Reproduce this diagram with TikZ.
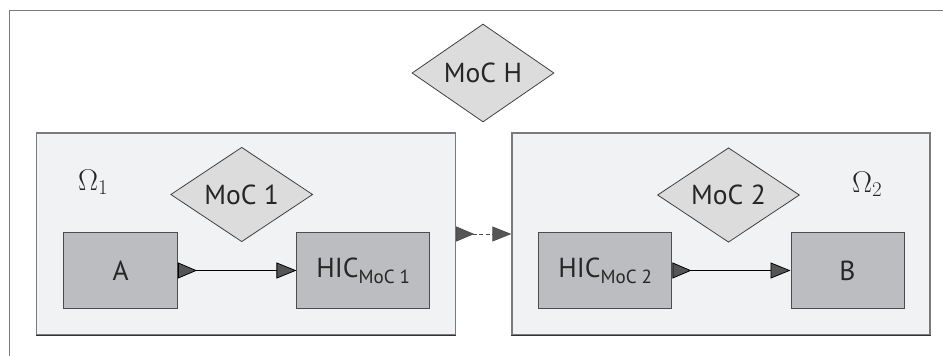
\documentclass[tikz,border=0pt]{standalone}
\usepackage{fontspec}
\setsansfont{PT Sans}
\usetikzlibrary{shapes.geometric,arrows.meta}
\definecolor{framegray}{HTML}{7A7A7A}
\definecolor{contfill}{HTML}{F1F2F4}
\definecolor{boxfill}{HTML}{BCBDC0}
\definecolor{diafill}{HTML}{DCDCDC}
\definecolor{tipfill}{HTML}{555555}
\newcommand{\mysub}[1]{\raisebox{-6pt}{\fontsize{19}{19}\selectfont #1}}
\newcommand{\omsub}[1]{\raisebox{-4.5pt}{\fontsize{21}{21}\selectfont #1}}
\begin{document}
\begin{tikzpicture}[x=1pt,y=-1pt,
  txt/.style={font=\sffamily\fontsize{27.5}{27.5}\selectfont, text=black!85},
  container/.style={draw=framegray, line width=1.3pt, fill=contfill, inner sep=0pt},
  blockbox/.style={txt, draw=black!70, line width=1pt, fill=boxfill, inner sep=0pt, minimum height=75.6pt},
  moc/.style={txt, shape=diamond, draw=black!75, line width=0.8pt, fill=diafill, inner sep=0pt, minimum width=142pt, minimum height=70pt},
  omega/.style={font=\rmfamily\fontsize{30}{30}\selectfont, text=black!85, inner sep=0pt, anchor=base west},
  flow/.style={draw=black, line width=0.8pt, {Triangle[reversed, length=19pt, width=16pt, fill=tipfill]}-{Triangle[length=20pt, width=16pt, fill=tipfill]}},
  link/.style={draw=black!70, line width=0.8pt, dash pattern=on 4pt off 2.5pt, {Triangle[reversed, length=18pt, width=15pt, fill=tipfill]}-{Triangle[length=19pt, width=15pt, fill=tipfill]}}
]
\useasboundingbox (0,0) rectangle (943,356);
\draw[framegray, line width=1.5pt] (943,10.5) -- (9.5,10.5) -- (9.5,356);

\node[container, minimum width=419pt, minimum height=202pt] (left) at (246,234) {};
\node[container, minimum width=418pt, minimum height=202pt] (right) at (721,234) {};
\draw[black!80, line width=1.3pt] (left.south west) -- (left.south east);
\draw[black!80, line width=1.3pt] (right.south west) -- (right.south east);

\node[moc] (mh) at (483,73) {MoC H};
\node[moc] (m1) at (241.7,194.5) {MoC 1};
\node[moc] (m2) at (728.5,195) {MoC 2};

\node[omega] (o1) at (78,190) {Ω\omsub{1}};
\node[omega] (o2) at (852,192) {Ω\omsub{2}};

\node[blockbox, minimum width=113.5pt] (a) at (120.7,270.5) {A};
\node[blockbox, minimum width=132.5pt] (h1) at (363.2,270.5) {HIC\mysub{MoC 1}};
\node[blockbox, minimum width=133.5pt] (h2) at (605.2,270.5) {HIC\mysub{MoC 2}};
\node[blockbox, minimum width=113pt] (b) at (847.5,270.5) {B};

\draw[flow] (a.east) -- (h1.west);
\draw[flow] (h2.east) -- (b.west);
\draw[link] (left.east) -- (right.west);
\end{tikzpicture}
\end{document}
